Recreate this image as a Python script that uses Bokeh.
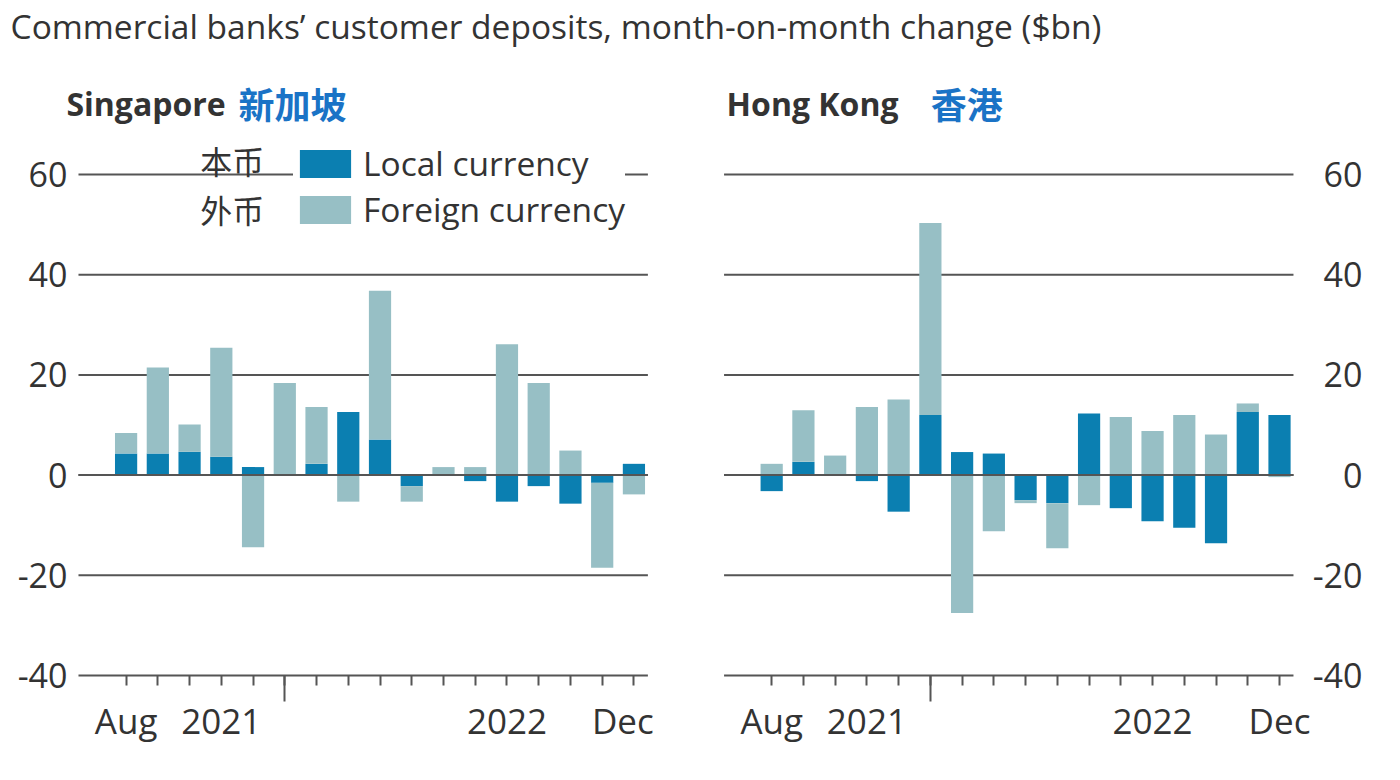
from bokeh.plotting import figure
from bokeh.models import (ColumnDataSource, FixedTicker, LinearAxis, Range1d,
                          Label, Legend, LegendItem)
from bokeh.embed import file_html
from bokeh.resources import INLINE

# ---------------- data ----------------
MONTHS = ["Aug 2021", "Sep 2021", "Oct 2021", "Nov 2021", "Dec 2021",
          "Jan 2022", "Feb 2022", "Mar 2022", "Apr 2022", "May 2022", "Jun 2022",
          "Jul 2022", "Aug 2022", "Sep 2022", "Oct 2022", "Nov 2022", "Dec 2022"]

SG_LOCAL = [4.3, 4.3, 4.65, 3.65, 1.6, 0.0, 2.25, 12.6, 7.1, -2.2, 0.0,
            -1.2, -5.3, -2.2, -5.7, -1.55, 2.25]
SG_FOREIGN = [4.1, 17.2, 5.45, 21.75, -14.4, 18.4, 11.35, -5.3, 29.7, -3.1, 1.6,
              1.6, 26.1, 18.4, 4.9, -16.95, -3.85]

HK_LOCAL = [-3.2, 2.65, 0.0, -1.2, -7.3, 12.0, 4.6, 4.3, -5.0, -5.6, 12.3,
            -6.6, -9.2, -10.5, -13.6, 12.6, 12.0]
HK_FOREIGN = [2.25, 10.3, 3.9, 13.6, 15.1, 38.3, -27.5, -11.2, -0.6, -9.0, -6.0,
              11.6, 8.8, 12.0, 8.1, 1.7, -0.4]

Y_TICKS = [-40, -20, 0, 20, 40, 60]
X_TICK_LABELS = {"Aug 2021": "Aug", "Nov 2021": "2021", "Aug 2022": "2022", "Dec 2022": "Dec"}
YEAR_START = "Jan 2022"

TITLE = "Commercial banks\u2019 customer deposits, month-on-month change ($bn)"
PANEL_NAMES = [("Singapore", "新加坡"), ("Hong Kong", "香港")]
SERIES_NAMES = ["Local currency", "Foreign currency"]
SERIES_NAMES_ZH = ["本币", "外币"]

# ---------------- style ----------------
LOCAL_COLOR = "#0b7fb1"
FOREIGN_COLOR = "#97bfc5"
ZH_BLUE = "#1a73c6"
TEXT = "#333333"
GRID = "#555555"
FONT = "Open Sans"
CJK = "Noto Sans CJK SC"

W, H = 1392, 772
PANEL_OFFSET = 20.34          # x shift of the second panel (layout)
PAD_L, PAD_R = 1.50, 0.44     # panel extents around first / last month
BAR_W = 0.7
Y_BOTTOM = -40
RIGHT_LABEL_ANCHOR = 39.30    # right edge (+standoff) of right-hand value labels
LABEL_SHIFT = {(0, "Dec 2022"): -0.35}   # nudge of a tick label inside its panel

# ---------------- build data ----------------
def stack(local, foreign):
    lt, fb, ft = [], [], []
    for l, f in zip(local, foreign):
        base = l if l * f > 0 else 0.0
        lt.append(l)
        fb.append(base)
        ft.append(base + f)
    return lt, fb, ft

xs, l_top, f_bot, f_top = [], [], [], []
panel_x0 = []
for k, (loc, fo) in enumerate([(SG_LOCAL, SG_FOREIGN), (HK_LOCAL, HK_FOREIGN)]):
    off = k * PANEL_OFFSET
    panel_x0.append(off)
    xs += [round(off + i, 2) for i in range(len(MONTHS))]
    a, b, c = stack(loc, fo)
    l_top += a
    f_bot += b
    f_top += c

src = ColumnDataSource(dict(x=xs, lt=l_top, lb=[0.0] * len(xs), fb=f_bot, ft=f_top))

# ---------------- figure (frame fills the canvas) ----------------
p = figure(width=W, height=H,
           x_range=Range1d(-3.957, 39.90),
           y_range=Range1d(-59.36, 94.73),
           x_axis_type=None, y_axis_type=None,
           output_backend="svg", toolbar_location=None,
           min_border_left=0, min_border_right=0,
           min_border_top=0, min_border_bottom=0)
p.outline_line_color = None
p.grid.grid_line_color = None
p.background_fill_color = "white"
p.border_fill_color = "white"

n = len(MONTHS)
# gridlines per panel (behind bars)
gx0, gx1, gy = [], [], []
for off in panel_x0:
    for t in Y_TICKS:
        gx0.append(off - PAD_L)
        gx1.append(off + n - 1 + PAD_R)
        gy.append(t)
p.segment(x0=gx0, x1=gx1, y0=gy, y1=gy, line_color=GRID, line_width=2)

r_local = p.vbar(x="x", width=BAR_W, bottom="lb", top="lt", source=src,
                 fill_color=LOCAL_COLOR, line_color=None)
r_foreign = p.vbar(x="x", width=BAR_W, bottom="fb", top="ft", source=src,
                   fill_color=FOREIGN_COLOR, line_color=None)

# zero line on top of bars
zx0 = [off - PAD_L for off in panel_x0]
zx1 = [off + n - 1 + PAD_R for off in panel_x0]
p.segment(x0=zx0, x1=zx1, y0=[0, 0], y1=[0, 0], line_color=GRID, line_width=2)

# ---------------- axes ----------------
ylab = {t: str(t) for t in Y_TICKS}

def y_axis(loc, standoff):
    return LinearAxis(ticker=FixedTicker(ticks=Y_TICKS), major_label_overrides=ylab,
                      fixed_location=loc,
                      axis_line_color=None, major_tick_line_color=None,
                      minor_tick_line_color=None, major_tick_out=0, major_tick_in=0,
                      major_label_standoff=standoff,
                      major_label_text_font=FONT, major_label_text_font_size="34px",
                      major_label_text_color=TEXT)

# left panel values (right-aligned to the left of the panel)
p.add_layout(y_axis(panel_x0[0] - PAD_L, 11), "left")
# right panel values (also right-aligned, to the right of the panel)
p.add_layout(y_axis(RIGHT_LABEL_ANCHOR, 11), "left")

# short month ticks + labels
lab_ticks, lab_over = [], {}
for k, off in enumerate(panel_x0):
    for m, txt in X_TICK_LABELS.items():
        v = round(off + MONTHS.index(m) + LABEL_SHIFT.get((k, m), 0.0), 2)
        lab_ticks.append(v)
        lab_over[v] = txt
xl = LinearAxis(ticker=FixedTicker(ticks=lab_ticks, minor_ticks=xs),
                major_label_overrides=lab_over, fixed_location=Y_BOTTOM,
                axis_line_color=None, major_tick_line_color=None,
                major_tick_out=0, major_tick_in=0,
                minor_tick_in=0, minor_tick_out=10,
                minor_tick_line_color=GRID, minor_tick_line_width=2,
                major_label_standoff=11,
                major_label_text_font=FONT, major_label_text_font_size="35px",
                major_label_text_color=TEXT)
p.add_layout(xl, "below")

# long year-boundary ticks
year_idx = MONTHS.index(YEAR_START)
long_ticks = [round(off + year_idx, 2) for off in panel_x0]
xt = LinearAxis(ticker=FixedTicker(ticks=[], minor_ticks=long_ticks),
                fixed_location=Y_BOTTOM, axis_line_color=None,
                major_tick_line_color=None,
                minor_tick_in=0, minor_tick_out=26,
                minor_tick_line_color=GRID, minor_tick_line_width=2)
p.add_layout(xt, "below")

# ---------------- texts ----------------
p.add_layout(Label(x=-3.64, y=89.7, text=TITLE, text_baseline="middle",
                   text_font=FONT, text_font_size="33.5px", text_color=TEXT))

title_pos = [(-1.88, 3.54), (-1.42, 5.01)]
for off, (en, zh), (xe, xz) in zip(panel_x0, PANEL_NAMES, title_pos):
    p.add_layout(Label(x=off + xe, y=74.2, text=en, text_baseline="middle",
                       text_font=FONT, text_font_size="32px", text_font_style="bold",
                       text_color=TEXT))
    p.add_layout(Label(x=off + xz, y=74.2, text=zh, text_baseline="middle",
                       text_font=CJK, text_font_size="36px", text_font_style="bold",
                       text_color=ZH_BLUE))

legend = Legend(items=[LegendItem(label=SERIES_NAMES[0], renderers=[r_local]),
                       LegendItem(label=SERIES_NAMES[1], renderers=[r_foreign])],
                location=(293, 540), orientation="vertical",
                background_fill_color="white", background_fill_alpha=1.0,
                border_line_color=None, label_text_font=FONT,
                label_text_font_size="33.5px", label_text_color=TEXT,
                glyph_width=64, glyph_height=35, label_standoff=6,
                padding=10, spacing=-9, margin=0)
p.add_layout(legend)

for zh, yv in zip(SERIES_NAMES_ZH, [62.8, 53.2]):
    p.add_layout(Label(x=2.34, y=yv, text=zh, text_baseline="middle",
                       text_font=CJK, text_font_size="32px", text_color=TEXT))

open("out.html", "w").write(file_html(p, INLINE))
